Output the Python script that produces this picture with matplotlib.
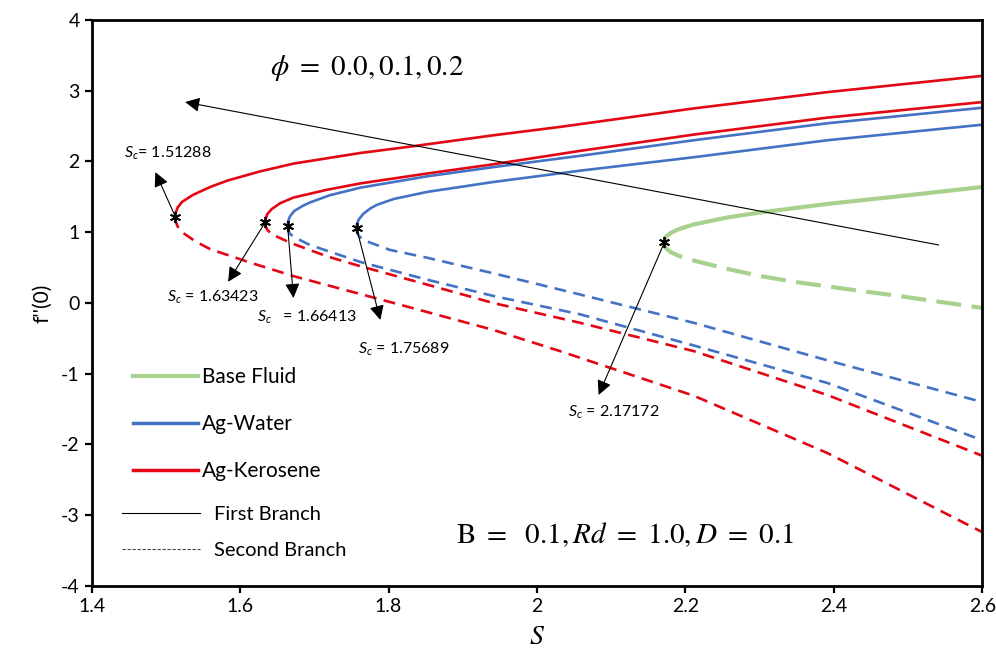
import matplotlib
matplotlib.use("Agg")
import matplotlib.pyplot as plt
from matplotlib.lines import Line2D

plt.rcParams['font.family'] = ['Lato', 'DejaVu Sans']
plt.rcParams['mathtext.fontset'] = 'custom'
plt.rcParams['mathtext.it'] = 'Lato:italic'
plt.rcParams['mathtext.rm'] = 'Lato'
plt.rcParams['axes.unicode_minus'] = False

# critical (turning) points
sc_vals = [1.51288, 1.63423, 1.66413, 1.75689, 2.17172]
fc_vals = [1.22, 1.145, 1.09, 1.06, 0.86]

# Ag-Kerosene, outer curve
ker2_S_up = [1.51288, 1.5135, 1.516, 1.522, 1.537, 1.560, 1.583, 1.627, 1.672, 1.762, 1.829, 1.941, 2.032, 2.211, 2.391, 2.6]
ker2_f_up = [1.22, 1.28, 1.35, 1.43, 1.53, 1.64, 1.73, 1.86, 1.97, 2.12, 2.21, 2.37, 2.49, 2.75, 2.98, 3.21]
ker2_S_lo = [1.51288, 1.5135, 1.516, 1.522, 1.540, 1.560, 1.614, 1.672, 1.807, 1.941, 2.031, 2.211, 2.391, 2.6]
ker2_f_lo = [1.22, 1.15, 1.08, 1.00, 0.87, 0.76, 0.57, 0.38, 0.0, -0.38, -0.68, -1.31, -2.12, -3.24]

# Ag-Kerosene, inner curve
ker1_S_up = [1.63423, 1.6348, 1.637, 1.643, 1.654, 1.672, 1.717, 1.762, 1.852, 1.941, 2.058, 2.211, 2.391, 2.6]
ker1_f_up = [1.145, 1.20, 1.26, 1.33, 1.41, 1.49, 1.60, 1.69, 1.83, 1.96, 2.15, 2.38, 2.62, 2.84]
ker1_S_lo = [1.63423, 1.6348, 1.637, 1.643, 1.668, 1.717, 1.762, 1.852, 1.941, 2.058, 2.211, 2.391, 2.6]
ker1_f_lo = [1.145, 1.08, 1.03, 0.97, 0.85, 0.66, 0.52, 0.26, 0.0, -0.28, -0.68, -1.30, -2.16]

# Ag-Water, outer curve
wat2_S_up = [1.66413, 1.6647, 1.667, 1.673, 1.684, 1.694, 1.720, 1.762, 1.852, 1.941, 2.058, 2.211, 2.391, 2.6]
wat2_f_up = [1.09, 1.15, 1.22, 1.30, 1.37, 1.42, 1.52, 1.63, 1.79, 1.92, 2.08, 2.30, 2.54, 2.76]
wat2_S_lo = [1.66413, 1.6647, 1.667, 1.673, 1.694, 1.762, 1.852, 1.941, 2.058, 2.211, 2.391, 2.6]
wat2_f_lo = [1.09, 1.03, 0.98, 0.93, 0.82, 0.58, 0.33, 0.10, -0.16, -0.60, -1.13, -1.94]

# Ag-Water, inner curve
wat1_S_up = [1.75689, 1.7575, 1.760, 1.766, 1.776, 1.785, 1.807, 1.852, 1.941, 2.058, 2.211, 2.391, 2.6]
wat1_f_up = [1.06, 1.12, 1.18, 1.26, 1.34, 1.39, 1.47, 1.57, 1.71, 1.87, 2.06, 2.30, 2.52]
wat1_S_lo = [1.75689, 1.7575, 1.760, 1.766, 1.802, 1.852, 1.941, 2.058, 2.211, 2.391, 2.6]
wat1_f_lo = [1.06, 1.00, 0.95, 0.89, 0.75, 0.64, 0.42, 0.12, -0.28, -0.81, -1.40]

# Base fluid
base_S_up = [2.17172, 2.1722, 2.174, 2.180, 2.190, 2.211, 2.257, 2.301, 2.391, 2.480, 2.6]
base_f_up = [0.86, 0.90, 0.94, 0.99, 1.04, 1.11, 1.21, 1.28, 1.40, 1.50, 1.64]
base_S_lo = [2.17172, 2.1722, 2.174, 2.180, 2.190, 2.211, 2.257, 2.301, 2.346, 2.436, 2.480, 2.6]
base_f_lo = [0.86, 0.81, 0.77, 0.72, 0.67, 0.60, 0.48, 0.38, 0.30, 0.17, 0.11, -0.07]

red = '#E30613'
blue = '#4472C4'
green = '#A9D18E'

fig = plt.figure(figsize=(9.96, 6.53), dpi=100)
ax = fig.add_axes([0.0919, 0.1026, 0.8945, 0.8668])

dash = (4.5, 2.8)
for S, f in [(ker2_S_up, ker2_f_up), (ker1_S_up, ker1_f_up)]:
    ax.plot(S, f, color=red, lw=1.9)
for S, f in [(ker2_S_lo, ker2_f_lo), (ker1_S_lo, ker1_f_lo)]:
    ax.plot(S, f, color=red, lw=1.9, dashes=dash)
for S, f in [(wat2_S_up, wat2_f_up), (wat1_S_up, wat1_f_up)]:
    ax.plot(S, f, color=blue, lw=1.9)
for S, f in [(wat2_S_lo, wat2_f_lo), (wat1_S_lo, wat1_f_lo)]:
    ax.plot(S, f, color=blue, lw=1.9, dashes=dash)
ax.plot(base_S_up, base_f_up, color=green, lw=3)
ax.plot(base_S_lo, base_f_lo, color=green, lw=3, dashes=(6, 2.5))

ax.plot(sc_vals, fc_vals, ls='none', marker=(6, 2, 0), ms=8, mew=1.3, color='k', zorder=5)

# arrows to S_c labels
arrow_tips = [(1.486, 1.85), (1.584, 0.30), (1.672, 0.07), (1.789, -0.24), (2.083, -1.30)]
label_pos = [(1.503, 2.12), (1.564, 0.08), (1.690, -0.20), (1.820, -0.66), (2.103, -1.54)]
label_txt = [r'$S_c$= 1.51288', r'$S_c$ = 1.63423', r'$S_c$   = 1.66413',
             r'$S_c$ = 1.75689', r'$S_c$ = 2.17172']
ap = dict(arrowstyle='-|>', mutation_scale=22, lw=0.8, color='k', shrinkA=0, shrinkB=0)
for sc, fc, tip, pos, txt in zip(sc_vals, fc_vals, arrow_tips, label_pos, label_txt):
    ax.annotate('', xy=tip, xytext=(sc, fc), arrowprops=ap)
    ax.text(pos[0], pos[1], txt, fontsize=11.5, ha='center', va='center')

ax.annotate('', xy=(1.526, 2.84), xytext=(2.541, 0.82), arrowprops=ap)
ax.text(1.771, 3.32, r'$\phi\ =\ 0.0, 0.1, 0.2$', fontsize=21, ha='center', va='center',
        math_fontfamily='stix')
ax.text(2.119, -3.28, r'$\mathrm{B}\ =\ \ 0.1, Rd\ =\ 1.0, D\ =\ 0.1$', fontsize=21,
        ha='center', va='center', math_fontfamily='stix')

ax.set_xlim(1.4, 2.6)
ax.set_ylim(-4, 4)
ax.set_xticks([1.4, 1.6, 1.8, 2, 2.2, 2.4, 2.6])
ax.set_xticklabels(['1.4', '1.6', '1.8', '2', '2.2', '2.4', '2.6'])
ax.set_yticks(range(-4, 5))
ax.tick_params(direction='out', length=5, width=1.6, labelsize=14)
for sp in ax.spines.values():
    sp.set_linewidth(2)
ax.set_xlabel(r'$S$', fontsize=20, labelpad=6, math_fontfamily='stix')
ax.set_ylabel("f''(0)", fontsize=15, labelpad=6)

h1 = [Line2D([], [], color=green, lw=3),
      Line2D([], [], color=blue, lw=2.5),
      Line2D([], [], color=red, lw=2.5)]
leg1 = ax.legend(h1, ['Base Fluid', 'Ag-Water', 'Ag-Kerosene'], loc='upper left',
                 bbox_to_anchor=(0.047, 0.387), frameon=False, fontsize=15, borderpad=0,
                 borderaxespad=0, handlelength=3.1, handletextpad=0.2, labelspacing=1.3)
ax.add_artist(leg1)
h2 = [Line2D([], [], color='k', lw=0.8),
      Line2D([], [], color='#444444', lw=0.8, dashes=(3, 1.5))]
ax.legend(h2, ['First Branch', 'Second Branch'], loc='upper left',
          bbox_to_anchor=(0.034, 0.142), frameon=False, fontsize=14.5, borderpad=0,
          borderaxespad=0, handlelength=3.9, handletextpad=0.7, labelspacing=0.95)

fig.savefig('out.png', dpi=100)
